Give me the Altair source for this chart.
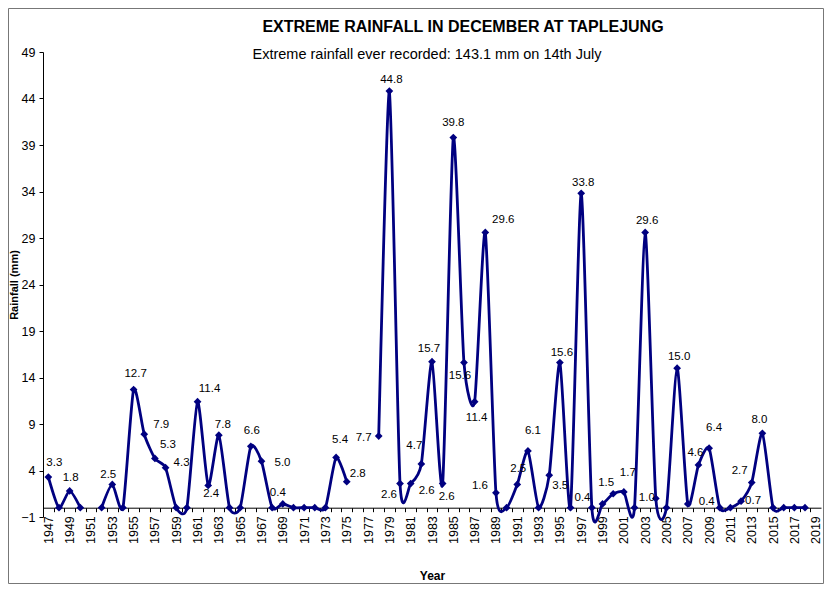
import altair as alt
import pandas as pd

# ---------------- data ----------------
years = list(range(1947, 2020))
rain = [
    3.3, 0, 1.8, 0,                                        # 1947-1950
    None, 0, 2.5, 0, 12.7, 7.9, 5.3, 4.3, 0, 0,            # 1951-1960
    11.4, 2.4, 7.8, 0, 0, 6.6, 5.0, 0, 0.4, 0,             # 1961-1970
    0, 0, 0, 5.4, 2.8, None, None, 7.7, 44.8, 2.6,         # 1971-1980
    2.6, 4.7, 15.7, 2.6, 39.8, 15.6, 11.4, 29.6, 1.6, 0,   # 1981-1990
    2.5, 6.1, 0, 3.5, 15.6, 0, 33.8, 0, 0.4, 1.5,          # 1991-2000
    1.7, 0, 29.6, 1.0, 0, 15.0, 0.4, 4.6, 6.4, 0,          # 2001-2010
    0, 0.7, 2.7, 8.0, 0, 0, 0, 0, None,                    # 2011-2019
]

# label placement (pixel offsets of each data label from its point)
label_offsets = {
    1947: (6, -14), 1949: (1, -13), 1953: (-4, -9), 1955: (2, -16),
    1956: (17, -9), 1957: (13, -13), 1958: (16, -5), 1961: (12, -13),
    1962: (3, 9), 1963: (4, -10), 1966: (1, -15), 1967: (21, 2),
    1969: (-5, -11), 1974: (4, -17), 1975: (11, -8), 1978: (-15, 2),
    1979: (2, -11), 1980: (-11, 11), 1981: (16, 7), 1982: (-7, -18),
    1983: (-3, -13), 1984: (4, 13), 1985: (0, -15), 1986: (-4, 13),
    1987: (2, 16), 1988: (18, -12), 1989: (-16, -7), 1991: (1, -15),
    1992: (5, -20), 1994: (11, 11), 1995: (2, -10), 1997: (2, -10),
    1999: (-20, -6), 2000: (-7, -11), 2001: (4, -19), 2003: (2, -11),
    2004: (-9, 0), 2006: (2, -11), 2007: (19, -2), 2008: (-3, -12),
    2009: (5, -20), 2012: (12, 0), 2013: (-12, -12), 2014: (-3, -13),
}

TITLE = "EXTREME RAINFALL IN DECEMBER AT TAPLEJUNG"
SUBTITLE = "Extreme rainfall ever recorded: 143.1 mm on 14th July"
y_ticks = list(range(-1, 50, 5))

# ---------------- layout ----------------
W, H = 778, 465
X_DOMAIN = [1946.5, 2019.5]
Y_DOMAIN = [-1, 49]
PX_YEAR = W / (X_DOMAIN[1] - X_DOMAIN[0])
PX_UNIT = H / (Y_DOMAIN[1] - Y_DOMAIN[0])
FONT = "Liberation Sans"
NAVY = "#000080"

rows = []
seg = 0
for yr, v in zip(years, rain):
    if v is None:
        seg += 1
        continue
    dx, dy = label_offsets.get(yr, (0, 0))
    rows.append({
        "year": yr, "rain": v, "seg": seg,
        "lx": yr + dx / PX_YEAR, "ly": v - dy / PX_UNIT,
    })
df = pd.DataFrame(rows)

xscale = alt.Scale(domain=X_DOMAIN, nice=False, zero=False)
yscale = alt.Scale(domain=Y_DOMAIN, nice=False, zero=False)

x_axis = alt.Axis(
    values=years, tickCount=200, format="d",
    labelExpr="datum.value % 2 == 1 ? datum.label : ''",
    labelOverlap=False,
    labelAngle=270, tickSize=4, tickOffset=-PX_YEAR / 2, labelOffset=PX_YEAR / 2,
    offset=-PX_UNIT, labelPadding=4, grid=False,
    title="Year", titleFontSize=12, titleFontWeight="bold", titlePadding=27,
    labelFontSize=12.5,
)
y_axis = alt.Axis(
    values=y_ticks, tickCount=50, tickSize=4, labelPadding=4, grid=False,
    labelOverlap=False,
    title="Rainfall (mm)", titleFontSize=11, titleFontWeight="bold",
    titlePadding=1, labelFontSize=12.5,
)

base = alt.Chart(df)

line = base.mark_line(
    interpolate="cardinal", tension=0.35, color=NAVY, strokeWidth=2.8
).encode(
    x=alt.X("year:Q", scale=xscale, axis=x_axis),
    y=alt.Y("rain:Q", scale=yscale, axis=y_axis),
    detail="seg:N",
)

points = base.mark_point(
    shape="diamond", filled=True, size=60, color=NAVY, opacity=1
).encode(
    x=alt.X("year:Q", scale=xscale),
    y=alt.Y("rain:Q", scale=yscale),
)

labels = base.transform_filter("datum.rain > 0").mark_text(
    font=FONT, fontSize=11.5, color="#000", align="center", baseline="middle"
).encode(
    x=alt.X("lx:Q", scale=xscale),
    y=alt.Y("ly:Q", scale=yscale),
    text=alt.Text("rain:Q", format=".1f"),
)

one = pd.DataFrame({"t": [TITLE], "s": [SUBTITLE]})
title = alt.Chart(one).mark_text(
    font=FONT, fontSize=16, fontWeight="bold", color="#000",
    align="center", baseline="middle"
).encode(x=alt.value(420), y=alt.value(-25), text="t:N")

subtitle = alt.Chart(one).mark_text(
    font=FONT, fontSize=14.5, color="#000", align="center", baseline="middle"
).encode(x=alt.value(384), y=alt.value(3), text="s:N")

border = alt.Chart(one).mark_rect(
    filled=False, stroke="#777", strokeWidth=1
).encode(
    x=alt.value(-34.5), x2=alt.value(780.5),
    y=alt.value(-43.5), y2=alt.value(531.5),
)

chart = alt.layer(border, line, points, labels, title, subtitle).properties(
    width=W, height=H,
    autosize=alt.AutoSizeParams(type="none"),
    padding={"left": 35, "top": 44, "right": 3, "bottom": 67},
    background="white",
).configure_view(stroke=None).configure_axis(
    labelFont=FONT, titleFont=FONT, labelColor="#000", titleColor="#000",
    domainColor="#000", tickColor="#000",
)

chart.save("out.html", embed_options={"renderer": "svg", "actions": False})
